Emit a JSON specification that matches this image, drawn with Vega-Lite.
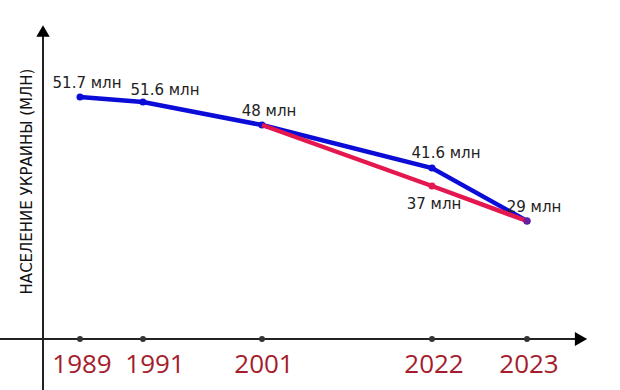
{
  "$schema": "https://vega.github.io/schema/vega-lite/v6.json",
  "width": 620,
  "height": 390,
  "autosize": {"type": "none"},
  "padding": 0,
  "background": "white",
  "config": {"view": {"stroke": null}},
  "data": {
    "values": [
      {"series": "blue", "year": 1989, "value": 51.7, "label": "51.7 млн"},
      {"series": "blue", "year": 1991, "value": 51.6, "label": "51.6 млн"},
      {"series": "blue", "year": 2001, "value": 48, "label": "48 млн"},
      {"series": "blue", "year": 2022, "value": 41.6, "label": "41.6 млн"},
      {"series": "blue", "year": 2023, "value": 29, "label": "29 млн"},
      {"series": "red", "year": 2001, "value": 48, "label": ""},
      {"series": "red", "year": 2022, "value": 37, "label": "37 млн"},
      {"series": "red", "year": 2023, "value": 29, "label": ""}
    ]
  },
  "layer": [
    {
      "data": {"values": [{}]},
      "mark": {"type": "rule", "color": "#222", "strokeWidth": 2},
      "encoding": {
        "x": {"datum": 1983, "type": "quantitative",
              "scale": {"type": "linear", "domain": [1983, 1986, 1989, 1991, 2001, 2022, 2023, 2030], "range": [0, 43, 80, 143, 262, 432, 527, 581], "nice": false, "zero": false},
              "axis": null},
        "x2": {"datum": 2030},
        "y": {"datum": 0, "type": "quantitative",
              "scale": {"type": "linear", "domain": [-12, 0, 29, 37, 41.6, 48, 51.6, 51.7, 65], "range": [390, 339, 221, 186, 168, 125, 102, 97, 31], "nice": false, "zero": false},
              "axis": {"title": "НАСЕЛЕНИЕ УКРАИНЫ (МЛН)", "domain": false, "ticks": false, "labels": false, "grid": false,
                       "titleX": 31, "titleY": 181, "titleAngle": 270, "titleAlign": "center", "titleBaseline": "alphabetic",
                       "titleFont": "DejaVu Sans", "titleFontSize": 15, "titleFontWeight": "normal", "titleColor": "#111"}}
      }
    },
    {
      "data": {"values": [{}]},
      "mark": {"type": "rule", "color": "#222", "strokeWidth": 2},
      "encoding": {
        "x": {"datum": 1986, "type": "quantitative"},
        "y": {"datum": -12, "type": "quantitative"},
        "y2": {"datum": 65}
      }
    },
    {
      "data": {"values": [{}]},
      "mark": {"type": "point", "shape": "triangle-up", "filled": true, "color": "#000", "size": 180, "opacity": 1},
      "encoding": {
        "x": {"datum": 1986, "type": "quantitative"},
        "y": {"datum": 65, "type": "quantitative"}
      }
    },
    {
      "data": {"values": [{}]},
      "mark": {"type": "point", "shape": "triangle-right", "filled": true, "color": "#000", "size": 200, "opacity": 1},
      "encoding": {
        "x": {"datum": 2030, "type": "quantitative"},
        "y": {"datum": 0, "type": "quantitative"}
      }
    },
    {
      "transform": [{"filter": {"field": "series", "equal": "blue"}}],
      "mark": {"type": "point", "filled": true, "color": "#333", "size": 35, "opacity": 1},
      "encoding": {
        "x": {"field": "year", "type": "quantitative"},
        "y": {"datum": 0, "type": "quantitative"}
      }
    },
    {
      "transform": [{"filter": {"and": [{"field": "series", "equal": "blue"}, {"field": "year", "oneOf": [1989, 2001, 2022, 2023]}]}}],
      "mark": {"type": "text", "font": "Open Sans", "fontSize": 26, "color": "#a51d2d", "baseline": "alphabetic", "align": "center", "dx": 2, "dy": 34},
      "encoding": {
        "x": {"field": "year", "type": "quantitative"},
        "y": {"datum": 0, "type": "quantitative"},
        "text": {"field": "year", "type": "nominal"}
      }
    },
    {
      "transform": [{"filter": {"and": [{"field": "series", "equal": "blue"}, {"field": "year", "equal": 1991}]}}],
      "mark": {"type": "text", "font": "Open Sans", "fontSize": 26, "color": "#a51d2d", "baseline": "alphabetic", "align": "center", "dx": 12, "dy": 34},
      "encoding": {
        "x": {"field": "year", "type": "quantitative"},
        "y": {"datum": 0, "type": "quantitative"},
        "text": {"field": "year", "type": "nominal"}
      }
    },
    {
      "transform": [{"filter": {"field": "series", "equal": "blue"}}],
      "mark": {"type": "line", "color": "#0c0cd8", "strokeWidth": 4.5},
      "encoding": {
        "x": {"field": "year", "type": "quantitative"},
        "y": {"field": "value", "type": "quantitative"}
      }
    },
    {
      "transform": [{"filter": {"field": "series", "equal": "blue"}}],
      "mark": {"type": "point", "filled": true, "color": "#0c0cd8", "size": 50, "opacity": 1},
      "encoding": {
        "x": {"field": "year", "type": "quantitative"},
        "y": {"field": "value", "type": "quantitative"}
      }
    },
    {
      "transform": [{"filter": {"field": "series", "equal": "red"}}],
      "mark": {"type": "line", "color": "#e5174f", "strokeWidth": 4.5},
      "encoding": {
        "x": {"field": "year", "type": "quantitative"},
        "y": {"field": "value", "type": "quantitative"}
      }
    },
    {
      "transform": [{"filter": {"and": [{"field": "series", "equal": "red"}, {"field": "year", "equal": 2022}]}}],
      "mark": {"type": "point", "filled": true, "color": "#e5174f", "size": 50, "opacity": 1},
      "encoding": {
        "x": {"field": "year", "type": "quantitative"},
        "y": {"field": "value", "type": "quantitative"}
      }
    },
    {
      "transform": [{"filter": {"and": [{"field": "series", "equal": "red"}, {"field": "year", "equal": 2023}]}}],
      "mark": {"type": "point", "filled": true, "color": "#6a1fa0", "size": 50, "opacity": 1},
      "encoding": {
        "x": {"field": "year", "type": "quantitative"},
        "y": {"field": "value", "type": "quantitative"}
      }
    },
    {
      "transform": [{"filter": {"and": [{"field": "series", "equal": "blue"}, {"field": "year", "oneOf": [1989, 2001, 2023]}]}}],
      "mark": {"type": "text", "font": "DejaVu Sans", "fontSize": 15, "color": "#222", "baseline": "alphabetic", "align": "center", "dx": 7, "dy": -9},
      "encoding": {
        "x": {"field": "year", "type": "quantitative"},
        "y": {"field": "value", "type": "quantitative"},
        "text": {"field": "label", "type": "nominal"}
      }
    },
    {
      "transform": [{"filter": {"and": [{"field": "series", "equal": "blue"}, {"field": "year", "equal": 1991}]}}],
      "mark": {"type": "text", "font": "DejaVu Sans", "fontSize": 15, "color": "#222", "baseline": "alphabetic", "align": "center", "dx": 22, "dy": -7},
      "encoding": {
        "x": {"field": "year", "type": "quantitative"},
        "y": {"field": "value", "type": "quantitative"},
        "text": {"field": "label", "type": "nominal"}
      }
    },
    {
      "transform": [{"filter": {"and": [{"field": "series", "equal": "blue"}, {"field": "year", "equal": 2022}]}}],
      "mark": {"type": "text", "font": "DejaVu Sans", "fontSize": 15, "color": "#222", "baseline": "alphabetic", "align": "center", "dx": 14, "dy": -10},
      "encoding": {
        "x": {"field": "year", "type": "quantitative"},
        "y": {"field": "value", "type": "quantitative"},
        "text": {"field": "label", "type": "nominal"}
      }
    },
    {
      "transform": [{"filter": {"and": [{"field": "series", "equal": "red"}, {"field": "year", "equal": 2022}]}}],
      "mark": {"type": "text", "font": "DejaVu Sans", "fontSize": 15, "color": "#222", "baseline": "alphabetic", "align": "center", "dx": 2, "dy": 23},
      "encoding": {
        "x": {"field": "year", "type": "quantitative"},
        "y": {"field": "value", "type": "quantitative"},
        "text": {"field": "label", "type": "nominal"}
      }
    }
  ]
}
